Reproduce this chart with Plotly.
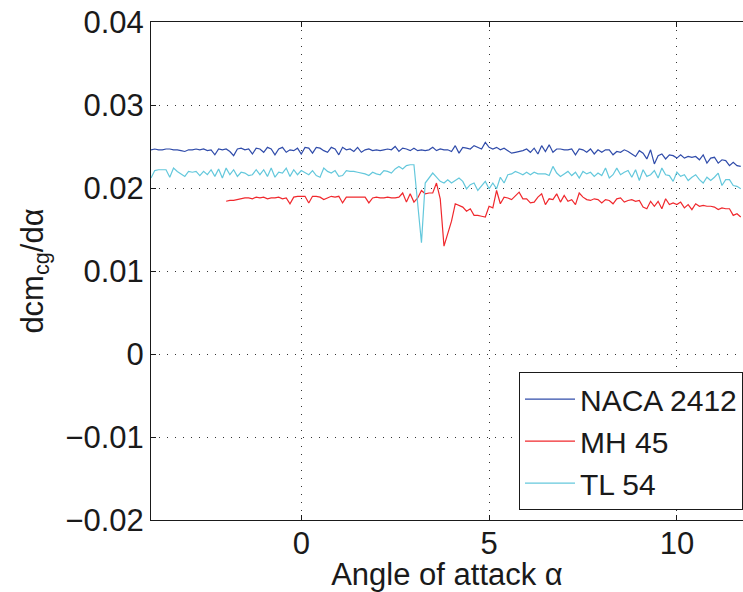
import plotly.graph_objects as go

alpha = [round(-4 + 0.1 * i, 1) for i in range(158)]
alpha_mh = [round(-2 + 0.1 * i, 1) for i in range(138)]

naca_2412 = [
    0.0246, 0.0247, 0.0246, 0.0246, 0.0247, 0.0247, 0.0246, 0.0246, 0.0245, 0.0244,
    0.0246, 0.0246, 0.0247, 0.0246, 0.0247, 0.0245, 0.0246, 0.0240, 0.0247, 0.0246,
    0.0247, 0.0244, 0.0239, 0.0247, 0.0248, 0.0246, 0.0247, 0.0241, 0.0248, 0.0247,
    0.0243, 0.0249, 0.0247, 0.0240, 0.0247, 0.0249, 0.0243, 0.0246, 0.0245, 0.0248,
    0.0241, 0.0249, 0.0248, 0.0242, 0.0249, 0.0248, 0.0245, 0.0243, 0.0249, 0.0247,
    0.0240, 0.0249, 0.0246, 0.0247, 0.0244, 0.0249, 0.0243, 0.0246, 0.0247, 0.0245,
    0.0246, 0.0245, 0.0246, 0.0247, 0.0246, 0.0250, 0.0244, 0.0248, 0.0247, 0.0245,
    0.0248, 0.0245, 0.0246, 0.0245, 0.0246, 0.0249, 0.0245, 0.0247, 0.0246, 0.0246,
    0.0244, 0.0251, 0.0242, 0.0249, 0.0248, 0.0247, 0.0251, 0.0249, 0.0247, 0.0255,
    0.0249, 0.0247, 0.0249, 0.0246, 0.0248, 0.0245, 0.0242, 0.0243, 0.0244, 0.0245,
    0.0247, 0.0243, 0.0248, 0.0241, 0.0251, 0.0244, 0.0252, 0.0243, 0.0247, 0.0247,
    0.0246, 0.0246, 0.0247, 0.0240, 0.0247, 0.0246, 0.0243, 0.0247, 0.0241, 0.0246,
    0.0243, 0.0246, 0.0246, 0.0240, 0.0244, 0.0243, 0.0246, 0.0244, 0.0241, 0.0238,
    0.0245, 0.0242, 0.0235, 0.0246, 0.0229, 0.0239, 0.0241, 0.0235, 0.0240, 0.0239,
    0.0236, 0.0240, 0.0236, 0.0238, 0.0237, 0.0238, 0.0234, 0.0240, 0.0230, 0.0236,
    0.0237, 0.0230, 0.0234, 0.0233, 0.0227, 0.0231, 0.0227, 0.0226,
]

tl_54 = [
    0.0212, 0.0221, 0.0222, 0.0222, 0.0222, 0.0213, 0.0224, 0.0220, 0.0217, 0.0214,
    0.0220, 0.0219, 0.0220, 0.0215, 0.0220, 0.0216, 0.0222, 0.0214, 0.0223, 0.0212,
    0.0224, 0.0216, 0.0222, 0.0214, 0.0219, 0.0218, 0.0215, 0.0216, 0.0222, 0.0216,
    0.0222, 0.0214, 0.0224, 0.0213, 0.0219, 0.0218, 0.0224, 0.0214, 0.0222, 0.0216,
    0.0221, 0.0218, 0.0216, 0.0221, 0.0215, 0.0213, 0.0224, 0.0220, 0.0218, 0.0221,
    0.0214, 0.0215, 0.0221, 0.0220, 0.0220, 0.0219, 0.0218, 0.0217, 0.0215, 0.0219,
    0.0217, 0.0216, 0.0221, 0.0220, 0.0218, 0.0223, 0.0226, 0.0223, 0.0227, 0.0228,
    0.0228, 0.0181, 0.0134, 0.0206, 0.0212, 0.0218, 0.0213, 0.0208, 0.0206, 0.0210,
    0.0206, 0.0209, 0.0212, 0.0208, 0.0199, 0.0204, 0.0206, 0.0197, 0.0203, 0.0208,
    0.0199, 0.0206, 0.0199, 0.0213, 0.0206, 0.0216, 0.0217, 0.0220, 0.0218, 0.0216,
    0.0219, 0.0216, 0.0219, 0.0217, 0.0217, 0.0217, 0.0215, 0.0226, 0.0218, 0.0214,
    0.0217, 0.0220, 0.0215, 0.0219, 0.0212, 0.0220, 0.0217, 0.0219, 0.0214, 0.0218,
    0.0215, 0.0224, 0.0212, 0.0216, 0.0224, 0.0216, 0.0219, 0.0221, 0.0213, 0.0222,
    0.0209, 0.0222, 0.0214, 0.0216, 0.0221, 0.0212, 0.0224, 0.0216, 0.0215, 0.0208,
    0.0219, 0.0214, 0.0216, 0.0209, 0.0213, 0.0216, 0.0210, 0.0206, 0.0213, 0.0209,
    0.0213, 0.0218, 0.0203, 0.0210, 0.0210, 0.0203, 0.0202, 0.0199,
]

mh_45 = [
    0.0184, 0.0185, 0.0185, 0.0186, 0.0187, 0.0188, 0.0188, 0.0187, 0.0189, 0.0188,
    0.0189, 0.0187, 0.0188, 0.0188, 0.0189, 0.0187, 0.0188, 0.0181, 0.0189, 0.0190,
    0.0190, 0.0190, 0.0182, 0.0190, 0.0190, 0.0189, 0.0186, 0.0188, 0.0190, 0.0189,
    0.0190, 0.0182, 0.0189, 0.0189, 0.0189, 0.0189, 0.0189, 0.0189, 0.0182, 0.0188,
    0.0189, 0.0188, 0.0188, 0.0189, 0.0188, 0.0188, 0.0189, 0.0194, 0.0183, 0.0193,
    0.0183, 0.0188, 0.0197, 0.0193, 0.0194, 0.0194, 0.0206, 0.0187, 0.0130, 0.0145,
    0.0160, 0.0181, 0.0179, 0.0177, 0.0172, 0.0175, 0.0167, 0.0167, 0.0166, 0.0165,
    0.0178, 0.0176, 0.0197, 0.0181, 0.0189, 0.0188, 0.0186, 0.0191, 0.0195, 0.0187,
    0.0187, 0.0182, 0.0183, 0.0189, 0.0193, 0.0180, 0.0187, 0.0186, 0.0193, 0.0183,
    0.0191, 0.0184, 0.0186, 0.0180, 0.0194, 0.0189, 0.0186, 0.0185, 0.0187, 0.0186,
    0.0182, 0.0186, 0.0185, 0.0181, 0.0187, 0.0188, 0.0183, 0.0185, 0.0186, 0.0184,
    0.0185, 0.0177, 0.0175, 0.0184, 0.0178, 0.0184, 0.0175, 0.0187, 0.0180, 0.0182,
    0.0180, 0.0183, 0.0176, 0.0180, 0.0174, 0.0181, 0.0178, 0.0179, 0.0178, 0.0178,
    0.0177, 0.0174, 0.0176, 0.0175, 0.0175, 0.0167, 0.0169, 0.0165,
]

x_ticks = [0, 5, 10]
y_ticks = [-0.02, -0.01, 0, 0.01, 0.02, 0.03, 0.04]
y_tick_labels = ["\u22120.02", "\u22120.01", "0", "0.01", "0.02", "0.03", "0.04"]

fig = go.Figure()
fig.add_trace(go.Scatter(x=alpha, y=naca_2412, mode="lines", name="NACA 2412",
                         line=dict(color="rgb(48,76,170)", width=1.2)))
fig.add_trace(go.Scatter(x=alpha_mh, y=mh_45, mode="lines", name="MH 45",
                         line=dict(color="rgb(240,40,45)", width=1.2)))
fig.add_trace(go.Scatter(x=alpha, y=tl_54, mode="lines", name="TL 54",
                         line=dict(color="rgb(100,200,220)", width=1.2)))

font_family = "Liberation Sans, Arial, Helvetica, sans-serif"

fig.update_layout(
    width=743, height=592,
    margin=dict(l=151, r=0, t=22, b=72),
    paper_bgcolor="white", plot_bgcolor="white",
    font=dict(family=font_family, size=31, color="#1a1a1a"),
    showlegend=True,
    legend=dict(x=1, y=0.02, xanchor="right", yanchor="bottom",
                bgcolor="white", bordercolor="#1a1a1a", borderwidth=1,
                font=dict(size=30), tracegroupgap=0, itemwidth=50),
    xaxis=dict(range=[-4, 11.76], tickvals=x_ticks, ticks="inside", ticklen=5,
               tickcolor="#1a1a1a", showline=True, linecolor="#1a1a1a", linewidth=1,
               mirror="ticks", showgrid=True, gridcolor="#333333", gridwidth=1,
               griddash="1px,7px", zeroline=False, ticklabeloverflow="allow",
               ticklabelstandoff=-4,
               title=dict(text="Angle of attack \u03b1", standoff=9, font=dict(size=31))),
    yaxis=dict(range=[-0.02, 0.0400001], tickvals=y_ticks, ticktext=y_tick_labels,
               ticks="inside", ticklen=5, tickcolor="#1a1a1a",
               showline=True, linecolor="#1a1a1a", linewidth=1, mirror=False,
               showgrid=True, gridcolor="#333333", gridwidth=1,
               griddash="1px,7px", zeroline=False, ticklabeloverflow="allow",
               title=dict(text="dcm<sub>cg</sub>/d\u03b1", standoff=12, font=dict(size=31))),
)

fig.write_html("out.html", config={"displayModeBar": False},
               post_script="document.body.style.margin='0';document.body.style.overflow='hidden';")
